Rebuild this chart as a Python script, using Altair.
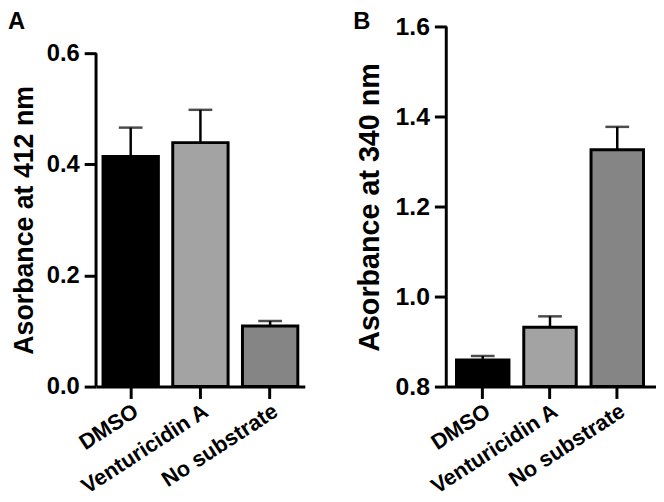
import altair as alt
import pandas as pd

categories = ["DMSO", "Venturicidin A", "No substrate"]
a_mean = [0.414, 0.439, 0.109]
a_err = [0.052, 0.059, 0.009]
b_mean = [0.859, 0.932, 1.326]
b_err = [0.009, 0.024, 0.051]
a_ticks = [0.0, 0.2, 0.4, 0.6]
b_ticks = [0.8, 1.0, 1.2, 1.4, 1.6]
bar_colors = ["#000000", "#a3a3a3", "#858585"]

FONT = "Arial"
H = 380


def panel(mean, err, ticks, domain, base, ytitle, letter, pi, po, align, width,
          title_size, label_size, title_x, title_y, letter_x):
    df = pd.DataFrame({
        "cat": categories,
        "mean": mean,
        "upper": [m + e for m, e in zip(mean, err)],
        "base": [base] * len(categories),
    })
    x = alt.X(
        "cat:N", sort=categories, title=None,
        scale=alt.Scale(paddingInner=pi, paddingOuter=po, align=align),
        axis=alt.Axis(labelAngle=-33, labelFontSize=22, labelPadding=2,
                      tickSize=12, domainWidth=3, tickWidth=3),
    )
    yscale = alt.Scale(domain=domain, zero=False, nice=False)
    yaxis = alt.Axis(values=ticks, format=".1f", title=ytitle, domain=False,
                     labelFontSize=label_size, labelPadding=5, tickSize=12,
                     titleFontSize=title_size, titleX=title_x, titleY=title_y,
                     titleAngle=-90, titleAlign="center", titleBaseline="bottom")
    base_chart = alt.Chart(df)
    err_rule = base_chart.mark_rule(color="black", strokeWidth=2.5).encode(
        x=x, y=alt.Y("mean:Q", scale=yscale, axis=yaxis, title=ytitle), y2="upper:Q")
    cap = base_chart.mark_tick(color="black", size=24, thickness=2.5).encode(
        x=x, y=alt.Y("upper:Q", scale=yscale, axis=yaxis, title=ytitle))
    bars = base_chart.mark_bar(stroke="black", strokeWidth=3).encode(
        x=x,
        y=alt.Y("mean:Q", scale=yscale, axis=yaxis, title=ytitle),
        y2="base:Q",
        color=alt.Color("cat:N", scale=alt.Scale(domain=categories, range=bar_colors),
                        legend=None),
    )
    ax = alt.Chart(pd.DataFrame({"y0": [ticks[0]], "y1": [ticks[-1]]})).mark_rule(
        color="black", strokeWidth=3).encode(
        x=alt.value(0),
        y=alt.Y("y0:Q", scale=yscale, axis=yaxis, title=ytitle),
        y2="y1:Q")
    lab = alt.Chart(pd.DataFrame({"t": [letter]})).mark_text(
        align="left", baseline="top", fontSize=24, font=FONT, fontWeight="bold",
        color="black").encode(x=alt.value(letter_x), y=alt.value(0), text="t:N")
    return alt.layer(err_rule, cap, bars, ax, lab).properties(width=width, height=H)


pa = panel(a_mean, a_err, a_ticks, [0.0, 0.6765], 0.0, "Asorbance at 412 nm", "A",
           0.206, 0.1, 0.5, 211, 27, 24, -58, 211.5, -89)
pb = panel(b_mean, b_err, b_ticks, [0.8, 1.6352], 0.8, "Asorbance at 340 nm", "B",
           0.22, 0.169, 0.45, 212, 29, 25, -62, 198.5, -94)

chart = alt.hconcat(pa, pb, spacing=49).properties(
    padding={"left": 0, "top": 0, "right": 0, "bottom": 0}
).configure_axis(
    labelFont=FONT, labelFontWeight="bold", labelColor="black",
    titleFont=FONT, titleFontWeight="bold", titleColor="black",
    domainColor="black", tickColor="black", domainWidth=3, tickWidth=3, grid=False,
).configure_view(stroke=None)

chart.save("out.html", embed_options={"renderer": "svg", "actions": False})
